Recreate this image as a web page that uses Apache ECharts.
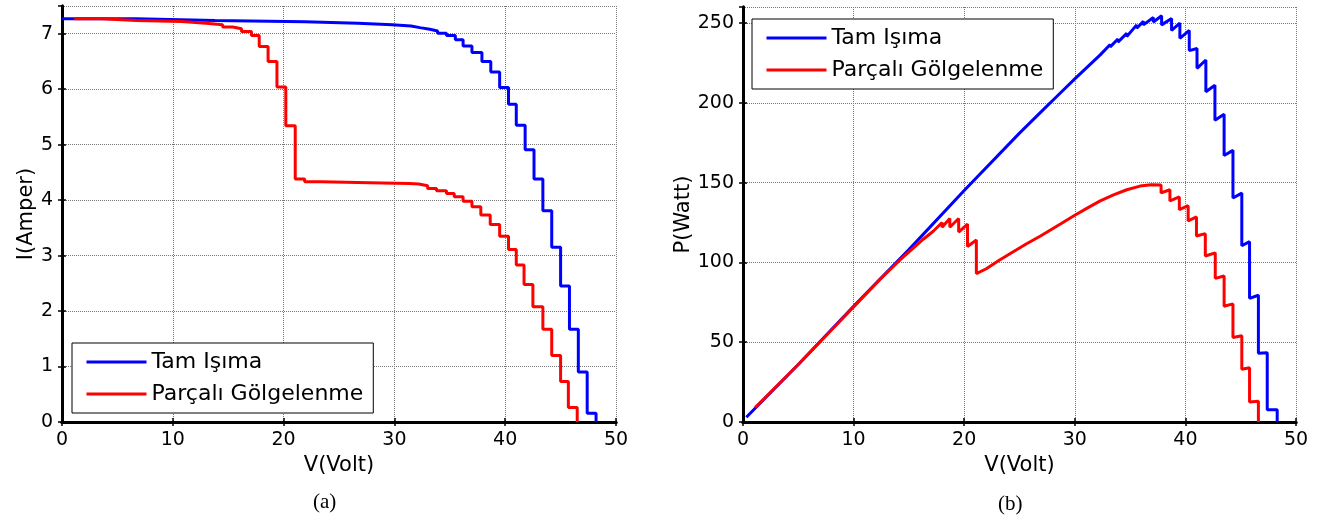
<!DOCTYPE html>
<html>
<head>
<meta charset="utf-8">
<script src="https://cdn.jsdelivr.net/npm/echarts@6/dist/echarts.min.js"></script>
<style>
  html, body { margin: 0; padding: 0; background: #fff; }
  #chart { width: 1322px; height: 519px; }
</style>
</head>
<body>
<div id="chart"></div>
<script>
const seriesNames = ['Tam Işıma', 'Parçalı Gölgelenme']

// I-V curve, step levels: voltage where each level starts, current of that level
const ivBlueV = [0, 6.7, 13.8, 21.9, 26.7, 29.8, 31.5, 32.3, 33.2, 33.9, 34.7, 35.5, 36.2, 37.0, 37.9, 38.7, 39.5, 40.3, 41.0, 41.8, 42.6, 43.4, 44.2, 45.0, 45.8, 46.6, 47.4, 48.2]
const ivBlueI = [7.27, 7.24, 7.215, 7.19, 7.16, 7.14, 7.11, 7.08, 7.05, 7.01, 6.97, 6.89, 6.78, 6.66, 6.50, 6.31, 6.03, 5.73, 5.35, 4.91, 4.38, 3.81, 3.15, 2.45, 1.67, 0.90, 0.16, 0]
const ivRedV = [1.1, 3.6, 6.7, 10.8, 13.0, 14.5, 15.4, 16.2, 17.1, 17.8, 18.6, 19.4, 20.2, 21.05, 21.9, 23.4, 28.9, 31.35, 32.2, 33.0, 33.8, 34.7, 35.4, 36.2, 37.0, 37.8, 38.65, 39.5, 40.3, 41.0, 41.7, 42.5, 43.4, 44.2, 45.0, 45.7, 46.5]
const ivRedI = [7.27, 7.24, 7.22, 7.19, 7.16, 7.12, 7.09, 7.04, 6.97, 6.77, 6.50, 6.04, 5.34, 4.38, 4.33, 4.31, 4.30, 4.29, 4.26, 4.21, 4.17, 4.12, 4.06, 3.98, 3.88, 3.73, 3.56, 3.35, 3.11, 2.83, 2.48, 2.08, 1.67, 1.20, 0.73, 0.26, 0]

// P-V curve vertices
const pvBlueV = [0.3, 5, 10, 15, 20, 25, 27.2, 28.6, 30, 32.3, 33.2, 33.2, 33.9, 33.9, 34.7, 34.7, 35.6, 35.6, 36.2, 36.2, 37.1, 37.1, 37.85, 37.85, 38.75, 38.75, 39.5, 39.5, 40.35, 40.35, 41.05, 41.05, 41.85, 41.85, 42.67, 42.67, 43.5, 43.5, 44.3, 44.3, 45.1, 45.1, 45.8, 45.8, 46.6, 46.6, 47.4, 47.4, 48.3, 48.3]
const pvBlueP = [3, 36, 72.5, 108, 145, 181, 196, 205.5, 215, 230, 236.5, 235, 240, 238, 243.5, 241.5, 248.8, 246.7, 251, 248.8, 253.4, 250.6, 254.5, 248.8, 252.8, 245.3, 249.9, 240.4, 245.3, 232.7, 234, 221.6, 226.8, 206.9, 211, 189, 192.8, 167, 170.2, 140.3, 143.4, 110.4, 113, 77.5, 79.4, 43, 43.4, 7.7, 7.7, 0]
const pvRedV = [1.1, 5, 10, 12.4, 14.2, 16.3, 17.2, 18.0, 18.0, 18.7, 18.7, 19.5, 19.5, 20.3, 20.3, 21.1, 21.1, 22, 23.2, 24.4, 25.6, 26.9, 28.7, 30, 31.2, 32.3, 33.5, 34.7, 35.9, 35.9, 36.9, 36.9, 37.8, 37.8, 38.6, 38.6, 39.45, 39.45, 40.25, 40.25, 41.0, 41.0, 41.8, 41.8, 42.7, 42.7, 43.5, 43.5, 44.3, 44.3, 45.1, 45.1, 45.8, 45.8, 46.6, 46.6]
const pvRedP = [9, 36, 72, 89.5, 101.5, 114.5, 119.5, 125, 122, 127.5, 122, 127.5, 119, 124, 110, 114, 93, 96, 101.5, 106.5, 111.5, 116.5, 124, 129.5, 134.3, 138.5, 142.3, 145.5, 147.8, 146.8, 148.6, 147.4, 148.5, 143.5, 145.5, 138.5, 141, 133, 135.5, 126, 128.5, 116.5, 118, 104, 106, 90, 91.5, 72.5, 74, 53, 54, 33, 34, 12.5, 13, 0]

const xTicks = [0, 10, 20, 30, 40, 50]

const zip = (a, b) => a.map((v, i) => [v, b[i]])
const FONT = 'DejaVu Sans'
const BLUE = '#0000ff'
const RED = '#ff0000'
const tickStyle = { show: true, inside: true, length: 4, lineStyle: { color: '#000', width: 1.5 } }
const frameLine = { show: true, lineStyle: { color: '#000', width: 3 } }
const gridLine = { show: true, lineStyle: { color: '#777', type: 'dotted', width: 1 } }

function bottomAxis(gridIndex) {
  return {
    type: 'value', gridIndex, position: 'bottom', min: xTicks[0], max: xTicks[xTicks.length - 1], interval: 10,
    name: 'V(Volt)', nameLocation: 'middle', nameGap: 29,
    nameTextStyle: { fontFamily: FONT, fontSize: 21, color: '#000' },
    axisLine: frameLine, axisTick: tickStyle,
    axisLabel: { fontFamily: FONT, fontSize: 19, color: '#000', margin: 9 },
    splitLine: gridLine
  }
}
function topAxis(gridIndex) {
  return {
    type: 'value', gridIndex, position: 'top', min: 0, max: 50, interval: 10,
    axisLine: frameLine, axisTick: tickStyle,
    axisLabel: { show: false }, splitLine: { show: false }
  }
}
function leftAxis(gridIndex, max, interval, name, gap) {
  return {
    type: 'value', gridIndex, position: 'left', min: 0, max, interval,
    name, nameLocation: 'middle', nameGap: gap,
    nameTextStyle: { fontFamily: FONT, fontSize: 21, color: '#000' },
    axisLine: frameLine, axisTick: tickStyle,
    axisLabel: { fontFamily: FONT, fontSize: 19, color: '#000', margin: 9, showMaxLabel: false },
    splitLine: gridLine
  }
}
function rightAxis(gridIndex, max, interval) {
  return {
    type: 'value', gridIndex, position: 'right', min: 0, max, interval,
    axisLine: frameLine, axisTick: tickStyle,
    axisLabel: { show: false }, splitLine: { show: false }
  }
}
function line(name, data, color, xi, yi, step) {
  return {
    name, type: 'line', data, xAxisIndex: xi, yAxisIndex: yi,
    step: step || false, symbol: 'none', showSymbol: false, animation: false,
    lineStyle: { color, width: 3 }, itemStyle: { color }
  }
}
function legendBox(left, top) {
  return {
    left, top, orient: 'vertical', selectedMode: false,
    data: seriesNames,
    itemWidth: 60, itemHeight: 22, itemGap: 10,
    padding: [8, 10, 8, 13],
    borderColor: '#000', borderWidth: 1, backgroundColor: '#fff',
    itemStyle: { color: 'rgba(0,0,0,0)', borderWidth: 0, opacity: 0 },
    lineStyle: { width: 3 },
    textStyle: { fontFamily: FONT, fontSize: 22, color: '#000' }
  }
}

const chart = echarts.init(document.getElementById('chart'))
chart.setOption({
  animation: false,
  backgroundColor: '#fff',
  grid: [
    { left: 62, right: 706, top: 6, bottom: 97 },
    { left: 743, right: 26, top: 7, bottom: 97 }
  ],
  xAxis: [bottomAxis(0), topAxis(0), bottomAxis(1), topAxis(1)],
  yAxis: [
    leftAxis(0, 7.5, 1, 'I(Amper)', 24), rightAxis(0, 7.5, 1),
    leftAxis(1, 260, 50, 'P(Watt)', 47), rightAxis(1, 260, 50)
  ],
  legend: [legendBox(72, 343), legendBox(752, 19)],
  series: [
    line(seriesNames[0], zip(ivBlueV, ivBlueI), BLUE, 0, 0, 'end'),
    line(seriesNames[1], zip(ivRedV, ivRedI), RED, 0, 0, 'end'),
    line(seriesNames[0], zip(pvBlueV, pvBlueP), BLUE, 2, 2),
    line(seriesNames[1], zip(pvRedV, pvRedP), RED, 2, 2)
  ],
  graphic: [
    { type: 'text', left: 313, top: 492, style: { text: '(a)', font: '21px "Liberation Serif"', fill: '#000' } },
    { type: 'text', left: 998, top: 494, style: { text: '(b)', font: '21px "Liberation Serif"', fill: '#000' } }
  ]
})
</script>
</body>
</html>
